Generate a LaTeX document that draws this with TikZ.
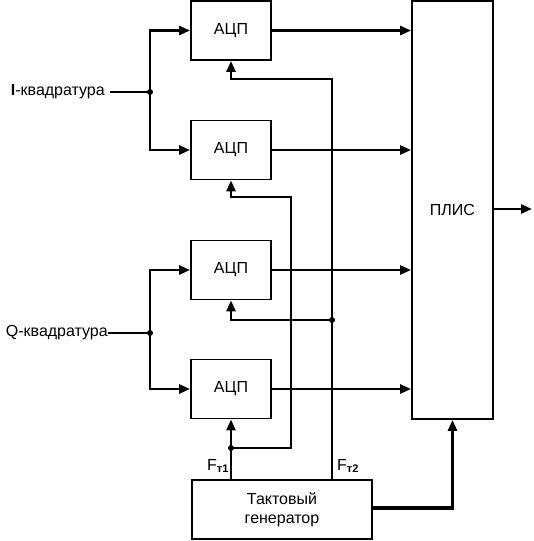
\documentclass[tikz,border=0pt]{standalone}
\usepackage{fontspec}
\setmainfont{Liberation Sans}
\usetikzlibrary{arrows.meta}
\begin{document}
\begin{tikzpicture}[x=1pt,y=-1pt,
  box/.style={draw,line width=1.8pt,inner sep=0pt,font=\fontsize{16}{19}\selectfont},
  conn/.style={line width=2.6pt},
  arr/.style={conn,-{Triangle[length=11pt,width=9pt]}},
  dot/.style={circle,fill,inner sep=0pt,minimum size=6pt},
  lbl/.style={inner sep=0pt,font=\fontsize{16}{19}\selectfont}]
\useasboundingbox (0,0) rectangle (533,541);
\node[box,minimum width=80pt,minimum height=59pt] (adc1) at (231,30.5) {АЦП};
\node[box,minimum width=80pt,minimum height=59pt] (adc2) at (231,150) {АЦП};
\node[box,minimum width=80pt,minimum height=59pt] (adc3) at (231,270) {АЦП};
\node[box,minimum width=80pt,minimum height=59pt] (adc4) at (231,389) {АЦП};
\node[box,minimum width=81pt,minimum height=418pt] (plis) at (452.5,210) {ПЛИС};
\node[box,minimum width=180pt,minimum height=59pt,align=center] (gen) at (282,509.5) {Тактовый\\генератор};
\node[lbl,anchor=east] (ilbl) at (105,92) {\textbf{I}-квадратура};
\node[lbl,anchor=east] (qlbl) at (108,333) {Q-квадратура};
\node[lbl] (f1) at (218,466) {F\textsubscript{\fontsize{11}{12}\selectfont\bfseries т1}};
\node[lbl] (f2) at (348,466) {F\textsubscript{\fontsize{11}{12}\selectfont\bfseries т2}};
% inputs
\coordinate (iin) at (110,92);
\node[dot] (iJ) at (150,92) {};
\coordinate (qin) at (108,333);
\node[dot] (qJ) at (150,333) {};
\draw[conn] (iin) -- (iJ.center);
\draw[arr] (iJ.center) |- (adc1.west);
\draw[arr] (iJ.center) |- (adc2.west);
\draw[conn] (qin) -- (qJ.center);
\draw[arr] (qJ.center) |- (adc3.west);
\draw[arr] (qJ.center) |- (adc4.west);
% outputs
\foreach \n in {adc1,adc2,adc3,adc4}
  \draw[arr] (\n.east) -- (plis.west |- \n.east);
\coordinate (out) at (532,209);
\draw[arr] (plis.east |- out) -- (out);
\draw[conn,line width=3.4pt,-{Triangle[length=11pt,width=9pt]}] (gen.east |- 0,508) -| (plis.south);
% clock F1
\coordinate (g1) at (adc4.south |- gen.north);
\node[dot] (j1) at (231,448) {};
\draw[arr] (g1) -- (adc4.south);
\coordinate (c1a) at (291,448);
\coordinate (c1b) at (291,197);
\coordinate (c1c) at (231,197);
\draw[arr] (j1.center) -- (c1a) -- (c1b) -- (c1c) -- (adc2.south);
% clock F2
\coordinate (g2) at (332,480);
\coordinate (c2a) at (332,79);
\coordinate (c2b) at (231,79);
\draw[arr] (g2) -- (c2a) -- (c2b) -- (adc1.south);
\node[dot] (j2) at (332,320) {};
\coordinate (c3a) at (231,320);
\draw[arr] (j2.center) -- (c3a) -- (adc3.south);
\end{tikzpicture}
\end{document}
